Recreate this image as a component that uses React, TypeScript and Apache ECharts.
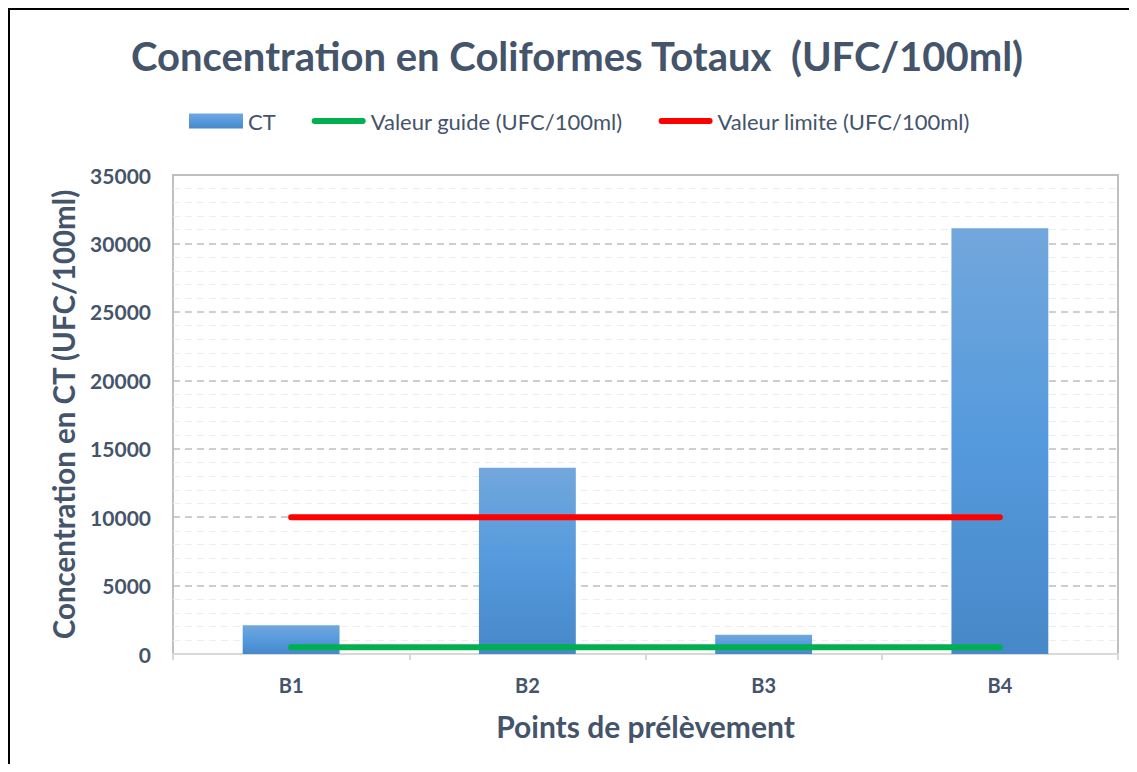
import React, { useEffect, useRef } from "react";
import * as echarts from "echarts";

const categories = ["B1", "B2", "B3", "B4"];
const ctValues = [2100, 13600, 1400, 31100];
const guideValues = [500, 500, 500, 500];
const limitValues = [10000, 10000, 10000, 10000];

const TXT = "#44546a";
const FONT = "Lato";
const LINE_ICON = "path://M3,0 H51 A3,3 0 0 1 51,6 H3 A3,3 0 0 1 3,0 Z";

export default function App() {
  const ref = useRef<HTMLDivElement>(null);
  useEffect(() => {
    if (!ref.current) return;
    const chart = echarts.init(ref.current, undefined, { renderer: "svg" });
    chart.setOption({
      animation: false,
      backgroundColor: "#ffffff",
      textStyle: { fontFamily: FONT },
      title: {
        text: "Concentration en Coliformes Totaux  (UFC/100ml)",
        left: 123,
        top: 28,
        padding: 0,
        textStyle: { fontFamily: FONT, fontSize: 40, fontWeight: "bold", color: TXT },
      },
      graphic: [
        { type: "line", shape: { x1: 1, y1: 0, x2: 1, y2: 756 }, style: { stroke: "#000", lineWidth: 2 } },
        { type: "line", shape: { x1: 0, y1: 1, x2: 1121, y2: 1 }, style: { stroke: "#000", lineWidth: 2 } },
      ],
      legend: {
        left: 181,
        top: 102,
        padding: 0,
        itemWidth: 54,
        itemHeight: 15,
        itemGap: 36,
        symbolKeepAspect: true,
        textStyle: { fontFamily: FONT, fontSize: 22, color: TXT },
        data: [
          { name: "CT", icon: "rect" },
          { name: "Valeur guide (UFC/100ml)", icon: LINE_ICON, itemStyle: { color: "#00b050" } },
          { name: "Valeur limite (UFC/100ml)", icon: LINE_ICON, itemStyle: { color: "#ff0000" } },
        ],
      },
      grid: {
        left: 165,
        top: 167,
        width: 945,
        height: 479,
        show: true,
        borderColor: "#bfbfbf",
        borderWidth: 2,
        backgroundColor: "transparent",
      },
      xAxis: {
        type: "category",
        data: categories,
        offset: 3,
        name: "Points de prélèvement",
        nameLocation: "middle",
        nameGap: 54,
        nameTextStyle: { fontFamily: FONT, fontSize: 30, fontWeight: "bold", color: TXT },
        axisLine: { show: true, lineStyle: { color: "#d9d9d9", width: 2 } },
        axisTick: { show: true, length: 6, lineStyle: { color: "#d9d9d9", width: 2 } },
        axisLabel: { margin: 18, fontFamily: FONT, fontSize: 20, fontWeight: "bold", color: TXT },
      },
      yAxis: {
        type: "value",
        min: 0,
        max: 35000,
        interval: 5000,
        name: "Concentration en CT (UFC/100ml)",
        nameLocation: "middle",
        nameGap: 95,
        nameTextStyle: { fontFamily: FONT, fontSize: 29.5, fontWeight: "bold", color: TXT },
        axisLine: { show: false },
        axisTick: { show: false },
        axisLabel: {
          margin: 22,
          fontFamily: FONT,
          fontSize: 21,
          fontWeight: "bold",
          color: TXT,
          formatter: (v: number) => String(v),
        },
        splitLine: { show: true, lineStyle: { color: "#bfbfbf", width: 1.5, type: [7, 5] } },
        minorTick: { show: false, splitNumber: 5 },
        minorSplitLine: { show: true, lineStyle: { color: "#ededed", width: 1, type: [7, 5] } },
      },
      series: [
        {
          name: "CT",
          type: "bar",
          data: ctValues,
          barWidth: "41%",
          z: 2,
          itemStyle: {
            color: new echarts.graphic.LinearGradient(0, 0, 0, 1, [
              { offset: 0, color: "#72a7dc" },
              { offset: 0.5, color: "#559add" },
              { offset: 1, color: "#4788c8" },
            ]),
          },
        },
        {
          name: "Valeur guide (UFC/100ml)",
          type: "line",
          data: guideValues,
          symbol: "none",
          z: 3,
          itemStyle: { color: "#00b050" },
          lineStyle: { color: "#00b050", width: 6, cap: "round" },
        },
        {
          name: "Valeur limite (UFC/100ml)",
          type: "line",
          data: limitValues,
          symbol: "none",
          z: 3,
          itemStyle: { color: "#ff0000" },
          lineStyle: { color: "#ff0000", width: 6, cap: "round" },
        },
      ],
    });
    return () => chart.dispose();
  }, []);
  return <div ref={ref} style={{ width: 1121, height: 756 }} />;
}
